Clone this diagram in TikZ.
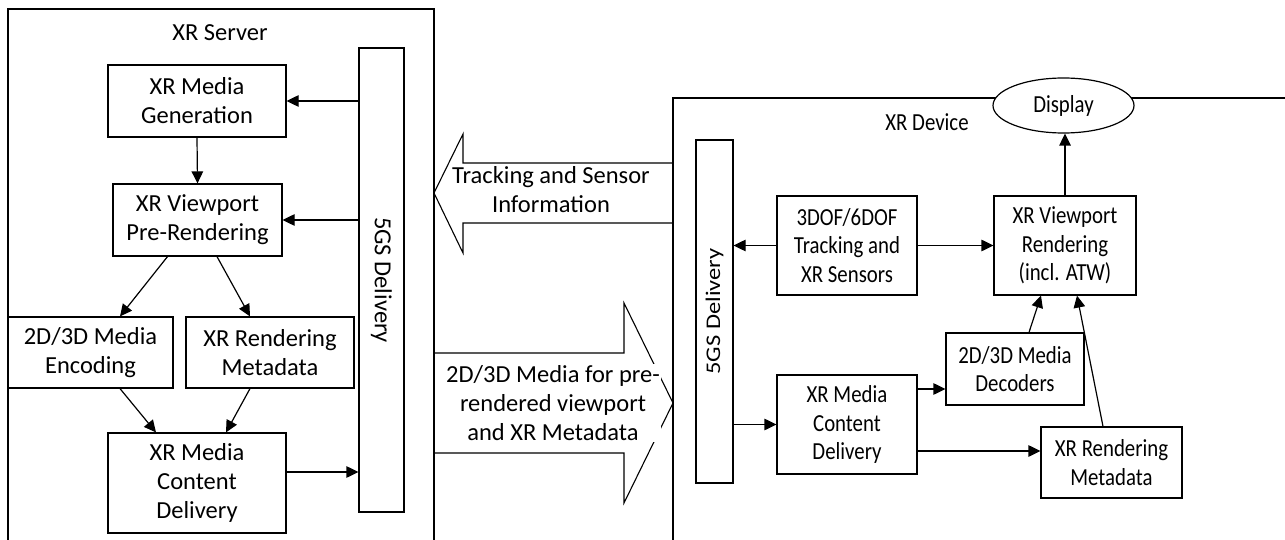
\documentclass[tikz,border=0pt]{standalone}
\usepackage{fontspec}
\setmainfont{Carlito}
\newfontfamily\devfont[FakeStretch=0.85]{Carlito}
\usetikzlibrary{arrows.meta,calc,shapes.geometric}
\begin{document}
\begin{tikzpicture}[x=1pt,y=-1pt,
  every node/.style={font=\fontsize{24.5}{29}\selectfont, align=center, inner sep=0pt},
  devtxt/.style={font=\devfont\fontsize{24.5}{28.5}\selectfont},
  blk/.style={draw, line width=1.2pt, fill=white},
  ln/.style={line width=1.2pt},
  arr/.style={line width=1.2pt, -{Triangle[length=12pt,width=11.5pt]}},
  fat/.style={line width=1.1pt}]
\useasboundingbox (0,0) rectangle (1285,540);
% outer frames
\draw[ln] (8,545) -- (8,9) -- (434,9) -- (434,545);
\draw[ln] (673,545) -- (673,98) -- (1290,98);
\node (srv) at (220,33) {XR Server};
\node[devtxt] (dev) at (927,122) {XR Device};
% big arrows
\draw[fat] (673,163) -- (463,163) -- (463,134) -- (434,193) -- (463,253) -- (463,223) -- (673,223);
\draw[fat] (434,353) -- (624,353) -- (624,303) -- (673,403) -- (624,503) -- (624,453) -- (434,453);
\node[fill=white,inner sep=1pt] (trk) at (551,190) {Tracking and Sensor\\Information};
\node[fill=white,inner sep=1pt] (med) at (553,403) {2D/3D Media for pre-\\rendered viewport\\and XR Metadata};
% server
\node[blk, minimum width=45pt, minimum height=464pt] (sbar) at (381.5,280) {\rotatebox{-90}{5GS Delivery}};
\node[blk, minimum width=178pt, minimum height=72pt] (gen) at (197,101) {XR Media\\Generation};
\node[blk, minimum width=169pt, minimum height=72pt] (pre) at (197.5,220) {XR Viewport\\Pre-Rendering};
\node[blk, minimum width=165pt, minimum height=71pt] (enc) at (90.5,352.5) {2D/3D Media\\Encoding};
\node[blk, minimum width=168pt, minimum height=71pt] (smeta) at (270,352.5) {XR Rendering\\Metadata};
\node[blk, minimum width=178pt, minimum height=100pt] (scd) at (197,483) {XR Media\\Content\\Delivery};
\draw[arr] (sbar.west |- gen.east) -- (gen.east);
\draw[arr] (sbar.west |- pre.east) -- (pre.east);
\draw[arr] (gen.south) -- (pre.north);
\draw[arr] ($(pre.south)+(-30,0)$) -- ($(enc.north)+(29.5,0)$);
\draw[arr] ($(pre.south)+(19.5,0)$) -- ($(smeta.north)+(-20,0)$);
\draw[arr] ($(enc.south)+(29.5,0)$) -- ($(scd.north)+(-41,0)$);
\draw[arr] ($(smeta.south)+(-20,0)$) -- ($(scd.north)+(29,0)$);
\coordinate (scdo) at ($(scd.east)+(0,-11)$);
\draw[arr] (scdo) -- (scdo -| sbar.west);
% device
\node[blk, devtxt, ellipse, minimum width=141pt, minimum height=55pt] (disp) at (1063.5,105.5) {Display};
\node[blk, minimum width=37pt, minimum height=343pt] (dbar) at (714.5,311.5) {\scalebox{0.85}[1]{\rotatebox{90}{5GS Delivery}}};
\node[blk, devtxt, minimum width=140pt, minimum height=99pt] (track) at (847,245.5) {3DOF/6DOF\\Tracking and\\XR Sensors};
\node[blk, devtxt, minimum width=142pt, minimum height=99pt] (view) at (1065,245.5) {XR Viewport\\Rendering\\(incl. ATW)};
\node[blk, devtxt, minimum width=138pt, minimum height=72pt] (dec) at (1015,369) {2D/3D Media\\Decoders};
\node[blk, devtxt, minimum width=141pt, minimum height=71pt] (dmeta) at (1111.5,462.5) {XR Rendering\\Metadata};
\node[blk, devtxt, minimum width=140pt, minimum height=99pt] (dcd) at (847,424.5) {XR Media\\Content\\Delivery};
\draw[arr] (track.west) -- (track.west -| dbar.east);
\draw[arr] (track.east) -- (view.west);
\draw[arr] (view.north) -- (view.north |- disp.south);
\draw[arr] (dbar.east |- dcd.west) -- (dcd.west);
\coordinate (dcd1) at ($(dcd.east)+(0,-35.5)$);
\coordinate (dcd2) at ($(dcd.east)+(0,26.5)$);
\draw[arr] (dcd1) -- (dcd1 -| dec.west);
\draw[arr] (dcd2) -- (dcd2 -| dmeta.west);
\draw[arr] ($(dec.north)+(14,0)$) -- ($(view.south)+(-24,0)$);
\draw[arr] ($(dmeta.north)+(-8.5,0)$) -- ($(view.south)+(12,0)$);
\end{tikzpicture}
\end{document}
